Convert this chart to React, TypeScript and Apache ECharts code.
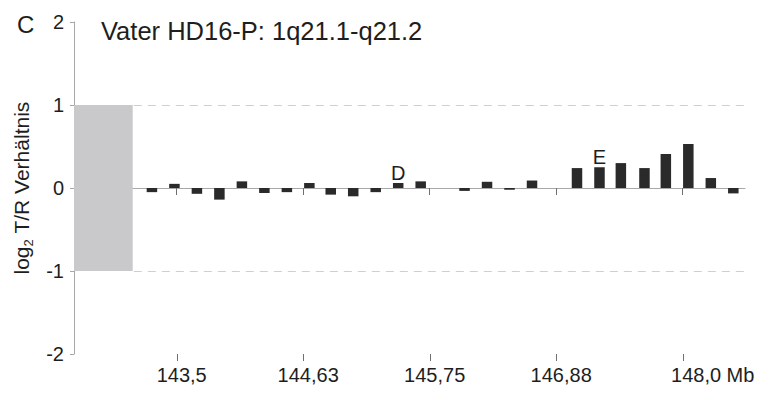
import React, { useEffect, useRef } from "react";
import * as echarts from "echarts";

// Bar positions (Mb) and log2 T/R values
const positions = [
  143.28, 143.48, 143.68, 143.88, 144.08, 144.28, 144.48, 144.68, 144.87,
  145.07, 145.27, 145.47, 145.67, 146.06, 146.26, 146.46, 146.66, 147.06,
  147.26, 147.45, 147.66, 147.85, 148.05, 148.25, 148.45,
];
const values = [
  -0.05, 0.05, -0.07, -0.14, 0.08, -0.06, -0.05, 0.06, -0.08, -0.1, -0.05,
  0.06, 0.08, -0.035, 0.075, -0.02, 0.09, 0.24, 0.25, 0.3, 0.24, 0.41, 0.53,
  0.12, -0.065,
];
const pointLabels = [
  "", "", "", "", "", "", "", "", "", "", "", "D", "", "", "", "", "", "",
  "E", "", "", "", "", "", "",
];
const xTickValues = [143.5, 144.625, 145.75, 146.875, 148.0];
const xTickLabels = ["143,5", "144,63", "145,75", "146,88", "148,0 Mb"];
const xMin = 142.587;
const xMax = 148.554;
const shadedEnd = 143.109;
const yTicks = [-2, -1, 0, 1, 2];

const FONT = "'Liberation Sans', Arial, Helvetica, sans-serif";

export default function App() {
  const ref = useRef<HTMLDivElement>(null);
  useEffect(() => {
    if (!ref.current) return;
    const chart = echarts.init(ref.current, undefined, { renderer: "svg" });
    const data = positions.map((x, i) => {
      const item: any = { value: [x, values[i]] };
      if (pointLabels[i]) {
        item.label = {
          show: true,
          position: "top",
          distance: 0,
          formatter: pointLabels[i],
          fontSize: 20,
          color: "#1e1e1e",
          fontFamily: FONT,
        };
      }
      return item;
    });
    const baseGraphics: any[] = [
      {
        type: "text",
        left: 17,
        top: 12,
        style: { text: "C", fontSize: 24, fill: "#1e1e1e", fontFamily: FONT },
      },
      {
        type: "text",
        left: 101,
        top: 18,
        style: {
          text: "Vater HD16-P: 1q21.1-q21.2",
          fontSize: 25.5,
          fill: "#1e1e1e",
          fontFamily: FONT,
        },
      },
    ];
    chart.setOption({
      animation: false,
      backgroundColor: "#ffffff",
      textStyle: { fontFamily: FONT },
      grid: { left: 74, right: 14, top: 22, bottom: 39, containLabel: false },
      graphic: baseGraphics,
      xAxis: {
        type: "value",
        min: xMin,
        max: xMax,
        splitLine: { show: false },
        axisLine: { show: true, lineStyle: { color: "#a8a8a8", width: 1 } },
        axisTick: {
          show: true,
          length: 7,
          customValues: xTickValues,
          lineStyle: { color: "#707070" },
        },
        axisLabel: {
          customValues: xTickValues,
          fontSize: 20,
          color: "#1e1e1e",
          margin: 11,
          fontFamily: FONT,
          formatter: (v: number) => {
            const idx = xTickValues.findIndex((t) => Math.abs(t - v) < 1e-6);
            const s = idx >= 0 ? xTickLabels[idx] : "";
            return idx === xTickValues.length - 1 ? "{last|" + s + "}" : "{n|" + s + "}";
          },
          rich: {
            n: { fontSize: 20, color: "#1e1e1e", fontFamily: FONT, padding: [0, 0, 0, 10] },
            last: { fontSize: 20, color: "#1e1e1e", fontFamily: FONT, padding: [0, 0, 0, 60] },
          },
        },
      },
      yAxis: {
        type: "value",
        min: yTicks[0],
        max: yTicks[yTicks.length - 1],
        interval: 1,
        splitLine: { show: false },
        axisLine: { show: true, lineStyle: { color: "#a8a8a8", width: 1 } },
        axisTick: { show: true, length: 4, lineStyle: { color: "#a8a8a8" } },
        axisLabel: { fontSize: 20, color: "#1e1e1e", margin: 10, fontFamily: FONT },
        name: "{m|log}{s|2}{m| T/R Verhältnis}",
        nameLocation: "middle",
        nameRotate: 90,
        nameGap: 39,
        nameTextStyle: {
          rich: {
            m: { fontSize: 21, color: "#1e1e1e", fontFamily: FONT, lineHeight: 24, verticalAlign: "bottom" },
            s: { fontSize: 13, color: "#1e1e1e", fontFamily: FONT, lineHeight: 24, verticalAlign: "bottom", padding: [0, 0, -3, 0] },
          },
        },
      },
      series: [
        {
          type: "bar",
          data,
          barWidth: 10.5,
          itemStyle: { color: "#2a2a2a" },
          markArea: {
            silent: true,
            itemStyle: { color: "#c9c8cb" },
            data: [[{ coord: [xMin, -1] }, { coord: [shadedEnd, 1] }]],
          },
          markLine: {
            silent: true,
            symbol: "none",
            label: { show: false },
            lineStyle: { color: "#cfcfcf", type: [8, 6], width: 1 },
            data: [
              [{ coord: [shadedEnd + 0.01, 1] }, { coord: [xMax, 1] }],
              [{ coord: [shadedEnd + 0.01, -1] }, { coord: [xMax, -1] }],
            ],
          },
        },
      ],
    });

    // Tick marks placed through the chart's own coordinate conversion
    const tickGraphics: any[] = [];
    xTickValues.forEach((v) => {
      const p = chart.convertToPixel({ gridIndex: 0 }, [v, yTicks[0]]) as number[];
      if (!p) return;
      const x = Math.round(p[0]) + 0.5;
      tickGraphics.push({
        type: "line",
        silent: true,
        shape: { x1: x, y1: p[1], x2: x, y2: p[1] + 7 },
        style: { stroke: "#707070", lineWidth: 1 },
      });
    });
    yTicks.forEach((t) => {
      const p = chart.convertToPixel({ gridIndex: 0 }, [xMin, t]) as number[];
      if (!p) return;
      const y = Math.round(p[1]) + 0.5;
      tickGraphics.push({
        type: "line",
        silent: true,
        shape: { x1: p[0] - 4, y1: y, x2: p[0], y2: y },
        style: { stroke: "#a8a8a8", lineWidth: 1 },
      });
    });
    chart.setOption({ graphic: [...baseGraphics, ...tickGraphics] });

    return () => chart.dispose();
  }, []);
  return (
    <div
      ref={ref}
      style={{ position: "fixed", left: 0, top: 0, width: 759, height: 393 }}
    />
  );
}
